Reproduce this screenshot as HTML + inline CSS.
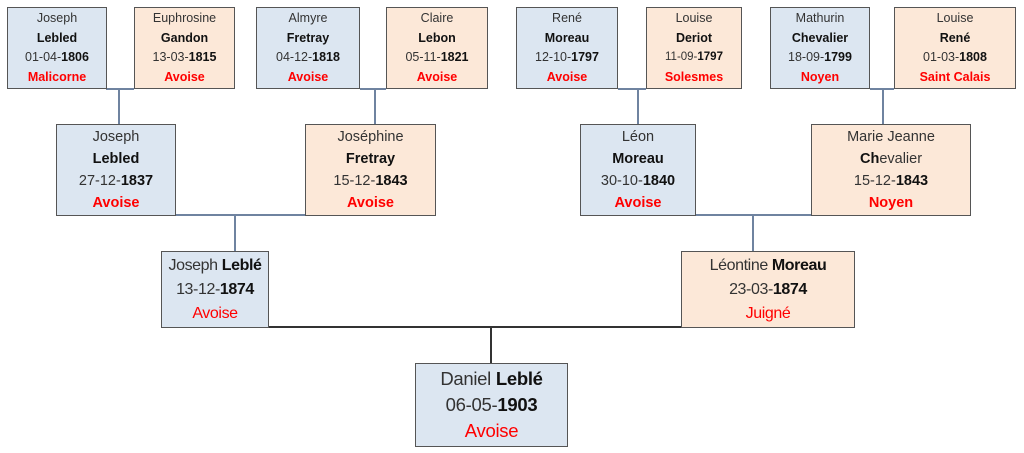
<!DOCTYPE html>
<html><head><meta charset="utf-8"><style>
body{margin:0;width:1024px;height:453px;background:#fff;position:relative;overflow:hidden;font-family:"Liberation Sans",sans-serif;color:#333}
.b{position:absolute;box-sizing:border-box;border:1.5px solid #555;text-align:center;display:flex;flex-direction:column;justify-content:center;white-space:nowrap}
.m{background:#dce6f1}.f{background:#fce8d8}
.b b{color:#111}
.r{color:#f00;font-weight:bold}
.s1{font-size:12.5px;line-height:19.5px}
.s2{font-size:14.5px;line-height:22px}
.s3{font-size:16px;line-height:24px;letter-spacing:-0.4px}
.s4{font-size:18.5px;line-height:26px;letter-spacing:-0.3px}
.l{position:absolute;background:#6f83a0}
</style></head><body>
<div class="l" style="left:106px;top:88px;width:28px;height:1.5px"></div>
<div class="l" style="left:118px;top:88px;width:1.5px;height:36px"></div>
<div class="l" style="left:360px;top:88px;width:26px;height:1.5px"></div>
<div class="l" style="left:374px;top:88px;width:1.5px;height:36px"></div>
<div class="l" style="left:618px;top:88px;width:28px;height:1.5px"></div>
<div class="l" style="left:637px;top:88px;width:1.5px;height:36px"></div>
<div class="l" style="left:870px;top:88px;width:24px;height:1.5px"></div>
<div class="l" style="left:882px;top:88px;width:1.5px;height:36px"></div>
<div class="l" style="left:175px;top:214px;width:130px;height:1.5px"></div>
<div class="l" style="left:234px;top:214px;width:1.5px;height:37px"></div>
<div class="l" style="left:695px;top:214px;width:116px;height:1.5px"></div>
<div class="l" style="left:752px;top:214px;width:1.5px;height:37px"></div>
<div class="l" style="left:268px;top:326px;width:413px;height:1.5px;background:#333"></div>
<div class="l" style="left:490px;top:326px;width:1.5px;height:37px;background:#333"></div>
<div class="b m s1" style="left:7px;top:7px;width:100px;height:82px">Joseph<b>Lebled</b><span>01-04-<b>1806</b></span><span class="r">Malicorne</span></div>
<div class="b f s1" style="left:134px;top:7px;width:101px;height:82px">Euphrosine<b>Gandon</b><span>13-03-<b>1815</b></span><span class="r">Avoise</span></div>
<div class="b m s1" style="left:256px;top:7px;width:104px;height:82px">Almyre<b>Fretray</b><span>04-12-<b>1818</b></span><span class="r">Avoise</span></div>
<div class="b f s1" style="left:386px;top:7px;width:102px;height:82px">Claire<b>Lebon</b><span>05-11-<b>1821</b></span><span class="r">Avoise</span></div>
<div class="b m s1" style="left:516px;top:7px;width:102px;height:82px">René<b>Moreau</b><span>12-10-<b>1797</b></span><span class="r">Avoise</span></div>
<div class="b f s1" style="left:646px;top:7px;width:96px;height:82px">Louise<b>Deriot</b><span style="font-size:11.5px">11-09-<b>1797</b></span><span class="r">Solesmes</span></div>
<div class="b m s1" style="left:770px;top:7px;width:100px;height:82px">Mathurin<b>Chevalier</b><span>18-09-<b>1799</b></span><span class="r">Noyen</span></div>
<div class="b f s1" style="left:894px;top:7px;width:122px;height:82px">Louise<b>René</b><span>01-03-<b>1808</b></span><span class="r">Saint Calais</span></div>
<div class="b m s2" style="left:56px;top:124px;width:120px;height:92px">Joseph<b>Lebled</b><span>27-12-<b>1837</b></span><span class="r">Avoise</span></div>
<div class="b f s2" style="left:305px;top:124px;width:131px;height:92px">Joséphine<b>Fretray</b><span>15-12-<b>1843</b></span><span class="r">Avoise</span></div>
<div class="b m s2" style="left:580px;top:124px;width:116px;height:92px">Léon<b>Moreau</b><span>30-10-<b>1840</b></span><span class="r">Avoise</span></div>
<div class="b f s2" style="left:811px;top:124px;width:160px;height:92px">Marie Jeanne<span><b>Ch</b>evalier</span><span>15-12-<b>1843</b></span><span class="r">Noyen</span></div>
<div class="b m s3" style="left:161px;top:251px;width:108px;height:77px"><span>Joseph <b>Leblé</b></span><span>13-12-<b>1874</b></span><span class="r" style="font-weight:normal">Avoise</span></div>
<div class="b f s3" style="left:681px;top:251px;width:174px;height:77px"><span>Léontine <b>Moreau</b></span><span>23-03-<b>1874</b></span><span class="r" style="font-weight:normal">Juigné</span></div>
<div class="b m s4" style="left:415px;top:363px;width:153px;height:84px"><span>Daniel <b>Leblé</b></span><span>06-05-<b>1903</b></span><span class="r" style="font-weight:normal">Avoise</span></div>
</body></html>
